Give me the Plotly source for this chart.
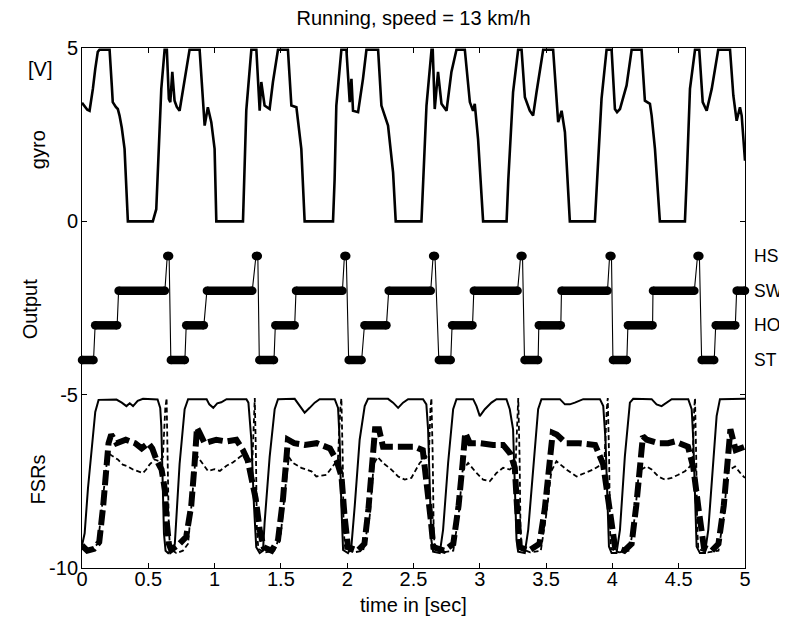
import plotly.graph_objects as go

# ---------------- data ----------------
gyro_t = [
    0.000, 0.020, 0.040, 0.057, 0.070, 0.082, 0.100, 0.119, 0.132, 0.208, 0.225, 0.232, 0.255, 0.270, 0.283, 0.300, 0.321, 0.335, 0.346,
    0.534, 0.560, 0.598, 0.623, 0.640, 0.655, 0.666, 0.681, 0.698, 0.715, 0.736, 0.774, 0.811, 0.887, 0.912, 0.925, 0.949, 0.975, 1.000, 1.013,
    1.214, 1.225, 1.239, 1.277, 1.315, 1.340, 1.352, 1.377, 1.415, 1.440, 1.478, 1.553, 1.579, 1.617, 1.629, 1.654, 1.679,
    1.893, 1.905, 1.918, 1.956, 1.994, 2.019, 2.032, 2.044, 2.082, 2.119, 2.145, 2.233, 2.258, 2.283, 2.308, 2.346, 2.366,
    2.560, 2.575, 2.598, 2.636, 2.645, 2.660, 2.685, 2.711, 2.749, 2.786, 2.824, 2.887, 2.925, 2.949, 2.962, 2.987, 3.025,
    3.202, 3.215, 3.251, 3.289, 3.315, 3.340, 3.377, 3.402, 3.428, 3.478, 3.553, 3.591, 3.617, 3.642, 3.679,
    3.868, 3.885, 3.918, 3.956, 3.994, 4.019, 4.035, 4.057, 4.107, 4.145, 4.220, 4.245, 4.283, 4.296, 4.321, 4.358,
    4.547, 4.560, 4.585, 4.623, 4.655, 4.681, 4.711, 4.749, 4.798, 4.887, 4.912, 4.937, 4.962, 4.975, 5.000,
]
gyro_v = [
    3.42, 3.30, 3.22, 3.19, 3.50, 3.82, 4.40, 4.89, 4.95, 4.95, 3.90, 3.44, 3.30, 3.24, 3.05, 2.70, 2.09, 1.00, 0.00,
    0.00, 0.35, 3.82, 4.95, 4.95, 3.53, 3.44, 4.31, 3.48, 3.30, 3.19, 4.11, 4.95, 4.95, 3.63, 2.76, 3.29, 2.86, 2.09, 0.00,
    0.00, 1.20, 3.20, 4.95, 4.95, 3.19, 4.02, 3.34, 3.24, 4.02, 4.95, 4.95, 3.34, 3.29, 2.86, 2.09, 0.00,
    0.00, 1.20, 3.34, 4.95, 4.95, 3.44, 4.11, 3.19, 3.15, 4.11, 4.95, 4.95, 3.34, 3.05, 2.76, 1.41, 0.00,
    0.00, 1.20, 3.34, 4.95, 4.95, 3.24, 4.31, 3.39, 3.19, 4.31, 4.95, 4.95, 3.44, 3.19, 3.39, 2.37, 0.00,
    0.00, 1.20, 3.73, 4.95, 4.95, 3.58, 3.19, 3.05, 3.73, 4.95, 4.95, 2.86, 3.19, 2.57, 0.00,
    0.00, 1.20, 3.53, 4.95, 4.95, 3.24, 3.15, 3.24, 3.92, 4.95, 4.95, 3.48, 3.39, 3.05, 2.09, 0.00,
    0.00, 1.20, 3.82, 4.95, 4.95, 3.44, 3.19, 3.82, 4.95, 4.95, 3.63, 2.90, 3.29, 3.05, 1.75,
]

# detector output: state segments (start time, end time, state)
out_start = [0.000, 0.099, 0.276, 0.643, 0.670, 0.786, 0.942, 1.312, 1.337, 1.458, 1.614, 1.979,
             2.011, 2.130, 2.313, 2.648, 2.691, 2.791, 2.955, 3.308, 3.337, 3.445, 3.616, 3.979,
             4.004, 4.117, 4.306, 4.642, 4.673, 4.779, 4.937]
out_end = [0.087, 0.265, 0.625, 0.657, 0.776, 0.919, 1.284, 1.326, 1.448, 1.604, 1.964, 1.993,
           2.109, 2.296, 2.630, 2.662, 2.781, 2.945, 3.285, 3.322, 3.440, 3.611, 3.963, 3.993,
           4.109, 4.303, 4.618, 4.656, 4.768, 4.927, 5.000]
out_state = ["ST", "HO", "SW", "HS", "ST", "HO", "SW", "HS", "ST", "HO", "SW", "HS",
             "ST", "HO", "SW", "HS", "ST", "HO", "SW", "HS", "ST", "HO", "SW", "HS",
             "ST", "HO", "SW", "HS", "ST", "HO", "SW"]
state_names = ["HS", "SW", "HO", "ST"]
state_level = [-1, -2, -3, -4]

# FSR signals
fsr_solid_t = [
    0.00, 0.02, 0.045, 0.08, 0.10, 0.125,
    0.26, 0.30, 0.335, 0.36, 0.385, 0.42, 0.46, 0.57,
    0.59, 0.598, 0.61, 0.618, 0.63, 0.65, 0.69,
    0.70, 0.736, 0.774, 0.80,
    0.94, 0.96, 0.99, 1.02, 1.05, 1.09, 1.24,
    1.255, 1.277, 1.297, 1.314, 1.34, 1.365,
    1.377, 1.415, 1.453, 1.478,
    1.604, 1.641, 1.679, 1.717, 1.755, 1.792, 1.906,
    1.931, 1.943, 1.956, 1.969, 2.006, 2.031,
    2.057, 2.094, 2.132, 2.157,
    2.308, 2.346, 2.384, 2.421, 2.459, 2.572,
    2.597, 2.610, 2.623, 2.635, 2.648, 2.698,
    2.723, 2.761, 2.799, 2.824,
    2.950, 2.975, 3.000, 3.038, 3.088, 3.126, 3.201,
    3.226, 3.251, 3.264, 3.277, 3.289, 3.339,
    3.365, 3.402, 3.440, 3.465,
    3.604, 3.642, 3.679, 3.717, 3.755, 3.780, 3.906,
    3.931, 3.948, 3.961, 3.974, 3.994, 4.031,
    4.057, 4.094, 4.132, 4.157,
    4.296, 4.333, 4.371, 4.409, 4.447, 4.572,
    4.598, 4.610, 4.623, 4.635, 4.660, 4.698,
    4.723, 4.761, 4.786, 4.811, 5.000,
]
fsr_solid_v = [
    -9.35, -9.0, -7.7, -6.3, -5.5, -5.15,
    -5.14, -5.23, -5.33, -5.25, -5.33, -5.18, -5.12, -5.14,
    -5.38, -5.9, -7.7, -9.0, -9.5, -9.57, -9.45,
    -9.3, -7.0, -5.42, -5.13,
    -5.13, -5.28, -5.38, -5.25, -5.22, -5.13, -5.13,
    -5.23, -6.3, -8.2, -9.4, -9.57, -9.5,
    -8.7, -6.8, -5.42, -5.13,
    -5.12, -5.33, -5.52, -5.38, -5.23, -5.13, -5.13,
    -5.38, -6.3, -8.2, -9.48, -9.57, -9.4,
    -8.2, -6.3, -5.33, -5.12,
    -5.12, -5.23, -5.38, -5.23, -5.13, -5.13,
    -5.28, -6.0, -7.7, -9.2, -9.53, -9.57,
    -8.9, -6.97, -5.42, -5.13,
    -5.13, -5.33, -5.62, -5.42, -5.23, -5.13, -5.13,
    -5.42, -6.0, -7.7, -9.2, -9.53, -9.57,
    -8.9, -7.05, -5.42, -5.13,
    -5.13, -5.28, -5.28, -5.23, -5.18, -5.13, -5.13,
    -5.33, -6.3, -8.2, -9.38, -9.57, -9.57,
    -8.9, -6.78, -5.23, -5.12,
    -5.13, -5.28, -5.33, -5.23, -5.13, -5.13,
    -5.42, -6.3, -8.2, -9.38, -9.57, -9.57,
    -8.9, -7.06, -5.62, -5.13, -5.12,
]

fsr_thick_t = [
    0.00, 0.04, 0.09, 0.13, 0.16, 0.185, 0.20, 0.22, 0.26, 0.33, 0.40, 0.45, 0.50, 0.53, 0.56, 0.60, 0.625, 0.64, 0.655, 0.673,
    0.736, 0.786, 0.824, 0.849, 0.867, 0.887, 0.925, 1.013, 1.088, 1.164, 1.214, 1.25, 1.28, 1.31, 1.34, 1.37,
    1.43, 1.478, 1.516, 1.541, 1.553, 1.60, 1.68, 1.77, 1.87, 1.92, 1.957, 1.98, 2.006,
    2.08, 2.13, 2.16, 2.19, 2.21, 2.24, 2.27, 2.41, 2.51, 2.57, 2.60, 2.63, 2.65,
    2.73, 2.80, 2.84, 2.87, 2.89, 2.925, 3.00, 3.10, 3.176, 3.23, 3.264, 3.28, 3.302,
    3.37, 3.45, 3.49, 3.52, 3.55, 3.58, 3.65, 3.75, 3.87, 3.93, 3.96, 3.99, 4.02,
    4.09, 4.145, 4.18, 4.21, 4.23, 4.26, 4.35, 4.42, 4.47, 4.57, 4.61, 4.65, 4.69,
    4.75, 4.80, 4.84, 4.87, 4.89, 4.93, 5.00,
]
fsr_thick_v = [
    -9.35, -9.5, -9.45, -9.25, -8.2, -7.0, -6.4, -6.15, -6.4, -6.3, -6.4, -6.55, -6.4, -6.55, -6.87, -7.16, -7.74, -8.7, -9.3, -9.48,
    -9.3, -9.1, -8.2, -7.0, -5.95, -6.1, -6.4, -6.3, -6.35, -6.3, -6.6, -6.9, -7.4, -8.0, -8.9, -9.4,
    -9.5, -9.2, -8.0, -7.1, -6.3, -6.4, -6.45, -6.4, -6.55, -6.9, -7.36, -8.5, -9.4,
    -9.5, -9.3, -8.3, -7.0, -6.0, -6.0, -6.5, -6.5, -6.5, -6.6, -7.5, -8.6, -9.4,
    -9.5, -9.3, -8.2, -7.0, -6.1, -6.4, -6.4, -6.45, -6.45, -6.7, -7.1, -8.2, -9.4,
    -9.5, -9.3, -8.3, -7.1, -6.1, -6.15, -6.4, -6.4, -6.45, -7.0, -7.9, -8.8, -9.4,
    -9.5, -9.3, -8.2, -7.0, -6.2, -6.3, -6.4, -6.4, -6.35, -6.5, -7.1, -8.3, -9.4,
    -9.5, -9.3, -8.2, -7.0, -6.0, -6.6, -6.5,
]

fsr_dash_t = [
    0.00, 0.06, 0.12, 0.16, 0.195, 0.233, 0.27, 0.308, 0.346, 0.384, 0.421, 0.459, 0.484, 0.509, 0.547, 0.585, 0.61, 0.628, 0.638, 0.648, 0.655, 0.665, 0.711, 0.761,
    0.80, 0.83, 0.855, 0.874, 0.91, 0.95, 1.00, 1.04, 1.09, 1.14, 1.19, 1.23, 1.285, 1.296, 1.303, 1.312, 1.319, 1.33, 1.38, 1.45,
    1.50, 1.53, 1.56, 1.591, 1.654, 1.73, 1.767, 1.843, 1.893, 1.93, 1.948, 1.956, 1.966, 1.973, 1.985, 2.05, 2.12,
    2.17, 2.20, 2.23, 2.27, 2.333, 2.384, 2.434, 2.484, 2.547, 2.597, 2.615, 2.628, 2.635, 2.645, 2.652, 2.66, 2.72, 2.80,
    2.84, 2.87, 2.912, 2.975, 3.025, 3.075, 3.126, 3.176, 3.226, 3.27, 3.283, 3.29, 3.30, 3.307, 3.315, 3.38, 3.46,
    3.50, 3.54, 3.578, 3.654, 3.73, 3.792, 3.855, 3.893, 3.94, 3.958, 3.965, 3.975, 3.982, 3.99, 4.05, 4.13,
    4.17, 4.20, 4.258, 4.296, 4.346, 4.396, 4.447, 4.497, 4.547, 4.585, 4.605, 4.617, 4.623, 4.632, 4.64, 4.648, 4.72, 4.80,
    4.84, 4.87, 4.925, 4.975, 5.00,
]
fsr_dash_v = [
    -9.45, -9.5, -9.3, -7.8, -6.68, -6.78, -6.87, -7.02, -7.07, -7.16, -7.21, -7.26, -7.16, -7.02, -6.87, -6.92, -6.8, -5.4, -5.1, -6.8, -8.9, -9.45, -9.57, -9.5,
    -9.3, -8.0, -6.9, -6.8, -7.0, -7.2, -7.15, -7.2, -7.05, -6.95, -6.8, -6.7, -6.9, -5.4, -5.1, -6.8, -8.9, -9.45, -9.55, -9.5,
    -9.0, -7.8, -6.8, -6.97, -7.11, -7.21, -7.36, -7.31, -7.07, -6.87, -5.4, -5.1, -6.8, -8.9, -9.45, -9.55, -9.5,
    -8.5, -7.0, -6.8, -6.97, -7.16, -7.36, -7.45, -7.4, -6.97, -6.78, -6.9, -5.4, -5.1, -6.8, -8.9, -9.45, -9.55, -9.5,
    -8.5, -7.2, -6.97, -7.26, -7.45, -7.5, -7.26, -7.11, -7.16, -7.0, -5.4, -5.1, -6.8, -8.9, -9.45, -9.55, -9.5,
    -8.5, -7.2, -6.92, -7.16, -7.36, -7.26, -7.16, -7.07, -6.9, -5.4, -5.1, -6.8, -8.9, -9.45, -9.55, -9.5,
    -8.5, -7.2, -7.07, -7.16, -7.36, -7.45, -7.4, -7.31, -7.21, -7.07, -6.95, -5.4, -5.1, -6.8, -8.9, -9.45, -9.55, -9.5,
    -8.5, -7.2, -7.07, -7.31, -7.4,
]

x_ticks = [0, 0.5, 1, 1.5, 2, 2.5, 3, 3.5, 4, 4.5, 5]
x_ticktext = ["0", "0.5", "1", "1.5", "2", "2.5", "3", "3.5", "4", "4.5", "5"]
y_ticks = [-10, -5, 0, 5]
y_ticktext = ["-10", "-5", "0", "5"]

# ---------------- figure ----------------
FONT = "Liberation Sans, Arial, Helvetica, sans-serif"
FS = 20
lvl = dict(zip(state_names, state_level))

fig = go.Figure()

# gyro
fig.add_trace(go.Scatter(x=gyro_t, y=gyro_v, mode="lines",
                         line=dict(color="black", width=2.6), showlegend=False))

# output: thin connecting line through all segment end points
thin_x, thin_y = [], []
thick_x, thick_y = [], []
for s, e, st in zip(out_start, out_end, out_state):
    thin_x += [s, e]
    thin_y += [lvl[st], lvl[st]]
    thick_x += [s, e, None]
    thick_y += [lvl[st], lvl[st], None]
fig.add_trace(go.Scatter(x=thin_x, y=thin_y, mode="lines",
                         line=dict(color="black", width=1.1), showlegend=False))
fig.add_trace(go.Scatter(x=thick_x, y=thick_y, mode="lines", cliponaxis=False,
                         line=dict(color="black", width=8.5), showlegend=False))
fig.add_trace(go.Scatter(x=thin_x, y=thin_y, mode="markers", cliponaxis=False,
                         marker=dict(color="black", size=8.5, line=dict(width=0)),
                         showlegend=False))

# FSRs
fig.add_trace(go.Scatter(x=fsr_solid_t, y=fsr_solid_v, mode="lines",
                         line=dict(color="black", width=2), showlegend=False))
fig.add_trace(go.Scatter(x=fsr_dash_t, y=fsr_dash_v, mode="lines",
                         line=dict(color="black", width=1.8, dash="5px,3px"), showlegend=False))
fig.add_trace(go.Scatter(x=fsr_thick_t, y=fsr_thick_v, mode="lines",
                         line=dict(color="black", width=6, dash="15px,5px"), showlegend=False))

axis_common = dict(showline=True, linecolor="black", linewidth=1, mirror="ticks",
                   ticks="inside", ticklen=5, tickcolor="black", tickwidth=1,
                   showgrid=False, zeroline=False, automargin=False,
                   tickfont=dict(family=FONT, size=FS, color="black"))

# the page body adds an 8 px offset, so the figure is sized 8 px smaller
fig.update_layout(
    width=779, height=609,
    paper_bgcolor="white", plot_bgcolor="white",
    margin=dict(l=74, r=42, t=40, b=49, pad=0, autoexpand=False),
    font=dict(family=FONT, color="black"),
    title=dict(text="Running, speed = 13 km/h", x=0.5, xref="paper", xanchor="center",
               y=1 - 10 / 609, yref="container", yanchor="middle",
               font=dict(family=FONT, size=FS, color="black")),
    xaxis=dict(range=[0, 5], tickvals=x_ticks, ticktext=x_ticktext,
               ticklabelstandoff=-7, **axis_common),
    yaxis=dict(range=[-10, 5], tickvals=y_ticks, ticktext=y_ticktext,
               ticklabelstandoff=-1, **axis_common),
)

# x-axis title
fig.add_annotation(text="time in [sec]", x=0.5, xref="paper", y=-0.071, yref="paper",
                   showarrow=False, xanchor="center", yanchor="middle",
                   font=dict(family=FONT, size=FS, color="black"))

# left-side labels
left_labels = [("[V]", 4.38, -0.063, 0), ("gyro", 2.07, -0.067, -90),
               ("Output", -2.55, -0.079, -90), ("FSRs", -7.46, -0.067, -90)]
for txt, yv, xp, ang in left_labels:
    fig.add_annotation(text=txt, x=xp, xref="paper", y=yv, yref="y", showarrow=False,
                       textangle=ang, xanchor="center", yanchor="middle",
                       font=dict(family=FONT, size=FS, color="black"))

# state labels on the right
for name, lv in zip(state_names, state_level):
    fig.add_annotation(text=name, x=1.011, xref="paper", y=lv, yref="y", showarrow=False,
                       xanchor="left", yanchor="middle",
                       font=dict(family=FONT, size=17.5, color="black"))

fig.write_html("out.html")
